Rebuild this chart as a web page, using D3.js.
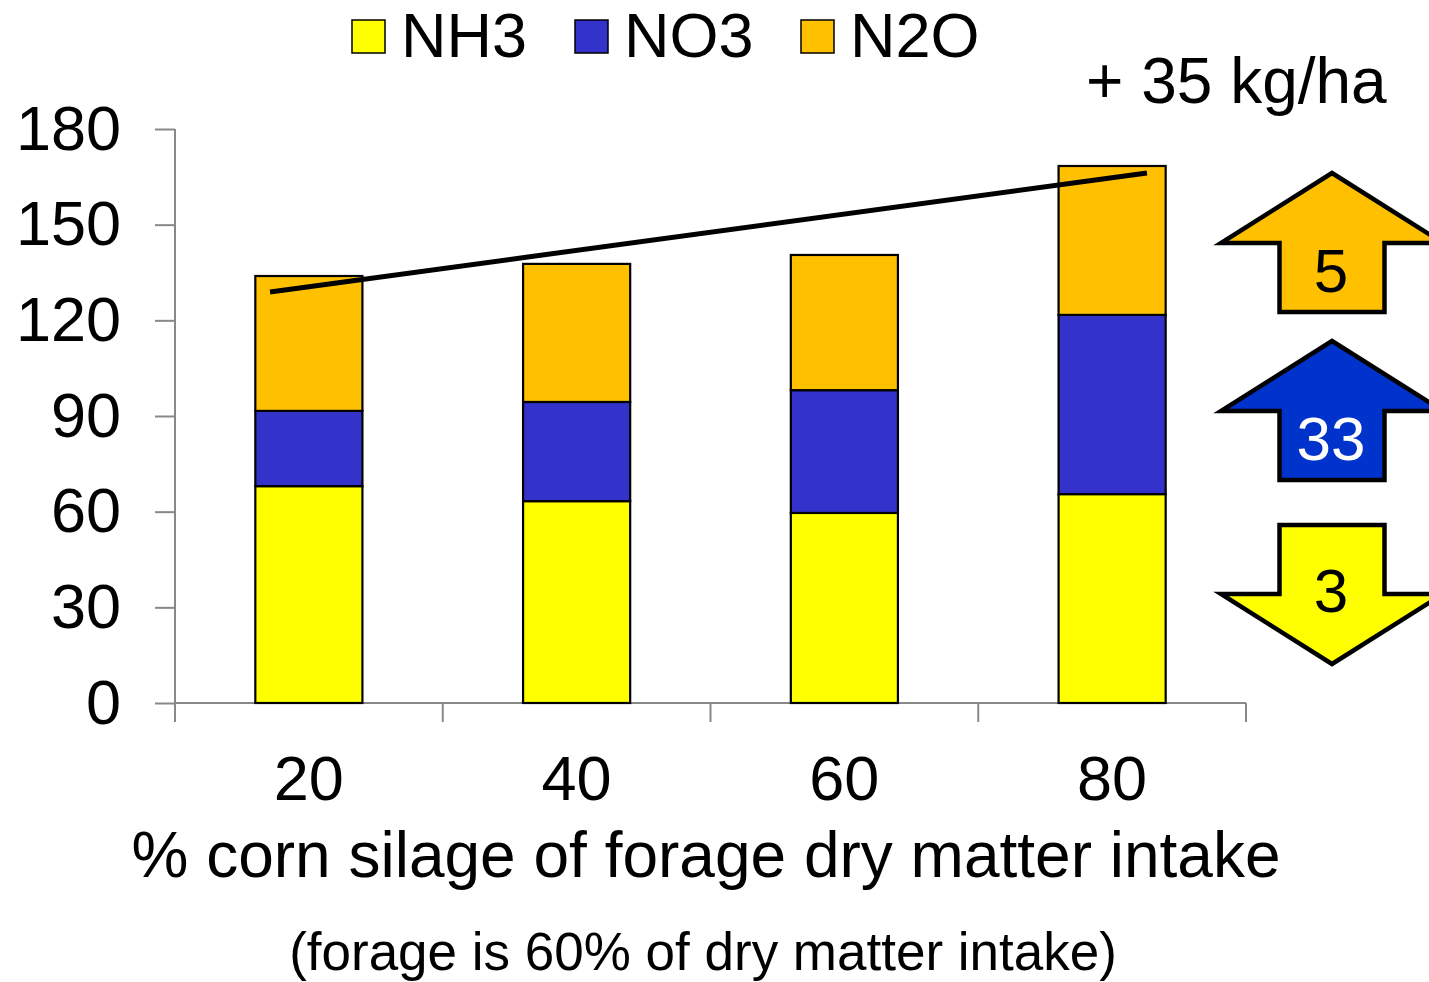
<!DOCTYPE html>
<html>
<head>
<meta charset="utf-8">
<script src="https://cdn.jsdelivr.net/npm/d3@7/dist/d3.min.js"></script>
<style>
  html, body { margin: 0; padding: 0; background: #fff; }
  svg { display: block; font-family: "Liberation Sans", Arial, sans-serif; }
</style>
</head>
<body>
<svg id="chart" width="1429" height="982"></svg>
<script>
// Nitrogen losses (kg/ha) by share of corn silage in forage dry matter intake
const categories = ["20", "40", "60", "80"];
const seriesNames = ["NH3", "NO3", "N2O"];
const nh3 = [68.0, 63.3, 59.6, 65.5];
const no3 = [23.6, 31.1, 38.5, 56.2];
const n2o = [42.3, 43.3, 42.4, 46.7];
const yTicks = [0, 30, 60, 90, 120, 150, 180];

// Linear trend through the stack totals (x in % corn silage)
const trendX = [17.1, 82.6];
const trendY = [128.9, 166.2];

// Change from 20% to 80% corn silage, per compound
const changeNames = ["N2O", "NO3", "NH3"];
const changeValues = [5, 33, -3];
const totalChange = "+ 35 kg/ha";

const colors = { NH3: "#FFFF00", NO3: "#3333CC", N2O: "#FFC000" };
const arrowColors = { NH3: "#FFFF00", NO3: "#0033CC", N2O: "#FFC000" };
const arrowText = { NH3: "#000", NO3: "#fff", N2O: "#000" };

const svg = d3.select("#chart");
const plotLeft = 175, plotRight = 1246, plotTop = 129, plotBottom = 703;

const x = d3.scaleBand().domain(categories).range([plotLeft, plotRight])
  .paddingInner(0.6).paddingOuter(0.3);
const y = d3.scaleLinear().domain([0, 180]).range([plotBottom, plotTop]);
const xLin = d3.scaleLinear().domain([20, 80])
  .range([x("20") + x.bandwidth() / 2, x("80") + x.bandwidth() / 2]);

// Stacked data
const rows = categories.map((c, i) => ({ cat: c, NH3: nh3[i], NO3: no3[i], N2O: n2o[i] }));
const stacked = d3.stack().keys(seriesNames)(rows);

// Axes
const axisColor = "#888";
const yAxis = svg.append("g").attr("transform", `translate(${plotLeft},0)`)
  .call(d3.axisLeft(y).tickValues(yTicks).tickSize(20).tickPadding(34));
yAxis.select(".domain").attr("stroke", axisColor).attr("stroke-width", 2)
  .attr("d", `M0,${plotTop}V${plotBottom}`);
yAxis.selectAll(".tick line").attr("stroke", axisColor).attr("stroke-width", 2);
yAxis.selectAll(".tick text").attr("fill", "#000").attr("font-size", 63)
  .attr("font-family", "Liberation Sans, Arial, sans-serif");

const xAxisG = svg.append("g").attr("transform", `translate(0,${plotBottom})`);
xAxisG.append("line").attr("x1", plotLeft).attr("x2", plotRight).attr("y1", 0).attr("y2", 0)
  .attr("stroke", axisColor).attr("stroke-width", 2);
const boundaries = categories.map(c => x(c) - x.step() * x.paddingInner() / 2);
boundaries.push(plotRight);
xAxisG.selectAll(".xt").data(boundaries).join("line")
  .attr("x1", d => d).attr("x2", d => d).attr("y1", 0).attr("y2", 19)
  .attr("stroke", axisColor).attr("stroke-width", 2);
xAxisG.selectAll(".xl").data(categories).join("text")
  .attr("x", d => x(d) + x.bandwidth() / 2).attr("y", 97)
  .attr("text-anchor", "middle").attr("font-size", 63).text(d => d);

// Bars
svg.append("g").selectAll("g").data(stacked).join("g")
  .attr("fill", d => colors[d.key])
  .selectAll("rect").data(d => d).join("rect")
  .attr("x", d => x(d.data.cat)).attr("width", x.bandwidth())
  .attr("y", d => y(d[1])).attr("height", d => y(d[0]) - y(d[1]))
  .attr("stroke", "#000").attr("stroke-width", 2.2);

// Trend line
svg.append("line")
  .attr("x1", xLin(trendX[0])).attr("y1", y(trendY[0]))
  .attr("x2", xLin(trendX[1])).attr("y2", y(trendY[1]))
  .attr("stroke", "#000").attr("stroke-width", 5);

// Axis titles
svg.append("text").attr("x", 706).attr("y", 877).attr("text-anchor", "middle")
  .attr("font-size", 64).text("% corn silage of forage dry matter intake");
svg.append("text").attr("x", 703).attr("y", 970).attr("text-anchor", "middle")
  .attr("font-size", 53).text("(forage is 60% of dry matter intake)");

// Legend
const legendX = [352, 575, 801];
const legend = svg.append("g").selectAll("g").data(seriesNames).join("g")
  .attr("transform", (d, i) => `translate(${legendX[i]},20)`);
legend.append("rect").attr("width", 33).attr("height", 33)
  .attr("fill", d => colors[d]).attr("stroke", "#000").attr("stroke-width", 1.5);
legend.append("text").attr("x", 49).attr("y", 37).attr("font-size", 63).text(d => d);

// Total change label
svg.append("text").attr("x", 1086).attr("y", 103).attr("font-size", 64).text(totalChange);

// Change arrows
const arrowCx = 1332, wingHalf = 111, shaftHalf = 52.5, headH = 70, bodyH = 69;
const arrowTops = [173, 341, 525];
function arrowPath(topY, up) {
  if (up) {
    return `M${arrowCx},${topY} L${arrowCx + wingHalf},${topY + headH} L${arrowCx + shaftHalf},${topY + headH}
      L${arrowCx + shaftHalf},${topY + headH + bodyH} L${arrowCx - shaftHalf},${topY + headH + bodyH}
      L${arrowCx - shaftHalf},${topY + headH} L${arrowCx - wingHalf},${topY + headH} Z`;
  }
  return `M${arrowCx - shaftHalf},${topY} L${arrowCx + shaftHalf},${topY} L${arrowCx + shaftHalf},${topY + bodyH}
    L${arrowCx + wingHalf},${topY + bodyH} L${arrowCx},${topY + bodyH + headH}
    L${arrowCx - wingHalf},${topY + bodyH} L${arrowCx - shaftHalf},${topY + bodyH} Z`;
}
const arrows = svg.append("g").selectAll("g").data(changeNames).join("g");
arrows.append("path")
  .attr("d", (d, i) => arrowPath(arrowTops[i], changeValues[i] > 0))
  .attr("fill", d => arrowColors[d]).attr("stroke", "#000").attr("stroke-width", 4.5)
  .attr("stroke-linejoin", "miter");
arrows.append("text")
  .attr("x", arrowCx - 1)
  .attr("y", (d, i) => changeValues[i] > 0 ? arrowTops[i] + 119 : arrowTops[i] + 87)
  .attr("text-anchor", "middle").attr("font-size", 62)
  .attr("fill", d => arrowText[d])
  .text((d, i) => Math.abs(changeValues[i]));
</script>
</body>
</html>
